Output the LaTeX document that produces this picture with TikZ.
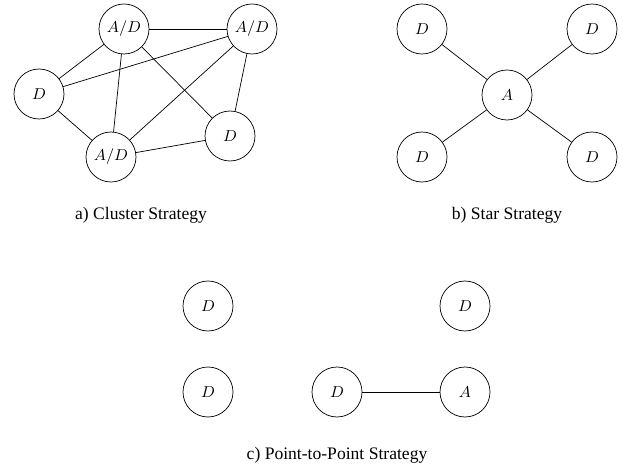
\documentclass[tikz,border=0pt]{standalone}
\usepackage{amsmath, amssymb}
\usepackage{fontspec}
\setmainfont{Liberation Serif}
\usetikzlibrary{positioning}
\tikzset{dev/.style={circle,draw,inner sep=0pt,minimum size=1cm,font=\small},
	 capt/.style={font=\normalsize},
	 node distance = 1
	 }
\begin{document}
\begin{tikzpicture} % cluster, star and point-to-point strategies
	\useasboundingbox (0,0) rectangle (12.68,-9.36);
	% a) cluster
	\node[dev] (c1) at (2.48,-0.58) {$A/D$};
	\node[dev] (c2) at (5.04,-0.58) {$A/D$};
	\node[dev] (c3) at (0.78,-1.88) {$D$};
	\node[dev] (c4) at (4.60,-2.72) {$D$};
	\node[dev] (c5) at (2.22,-3.14) {$A/D$};
	\node[capt] (ca) at (2.82,-4.30) {a) Cluster Strategy};
	\draw (c1) to (c2);
	\draw (c1) to (c3); \draw (c1) to (c5); \draw (c1) to (c4);
	\draw (c2) to (c3); \draw (c2) to (c5); \draw (c2) to (c4);
	\draw (c3) to (c5) to (c4);
	% b) star
	\node[dev] (s0) at (10.14,-1.90) {$A$};
	\node[dev] (s1) [on grid, above left=1.32cm and 1.70cm of s0] {$D$};
	\node[dev] (s2) [on grid, above right=1.32cm and 1.70cm of s0] {$D$};
	\node[dev] (s3) [on grid, below left=1.24cm and 1.70cm of s0] {$D$};
	\node[dev] (s4) [on grid, below right=1.24cm and 1.70cm of s0] {$D$};
	\node[capt] (cb) at (10.14,-4.30) {b) Star Strategy};
	\draw (s0) to (s1); \draw (s0) to (s2);
	\draw (s0) to (s3); \draw (s0) to (s4);
	% c) point-to-point
	\node[dev] (p1) at (4.16,-6.12) {$D$};
	\node[dev] (p2) [on grid, right=5.14cm of p1] {$D$};
	\node[dev] (p3) [on grid, below=1.72cm of p1] {$D$};
	\node[dev] (p4) [on grid, right=2.58cm of p3] {$D$};
	\node[dev] (p5) [on grid, right=2.56cm of p4] {$A$};
	\node[capt] (cc) at (6.74,-9.10) {c) Point-to-Point Strategy};
	\draw (p4) to (p5);
\end{tikzpicture}
\end{document}
